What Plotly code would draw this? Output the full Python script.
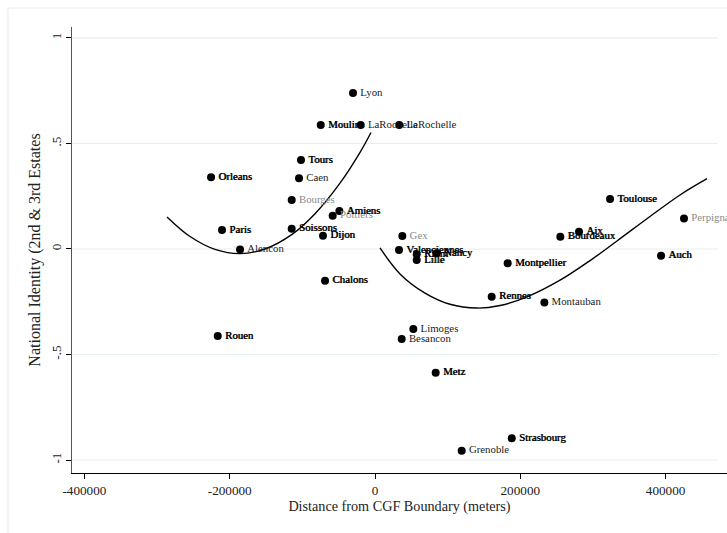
import plotly.graph_objects as go

# ---------------- data ----------------
cities = ["Lyon", "Moulins", "LaRochelle", "LaRochelle", "Tours", "Orleans", "Caen",
          "Bourges", "Amiens", "Poitiers", "Paris", "Soissons", "Dijon", "Alencon",
          "Chalons", "Rouen", "Gex", "Valenciennes", "Riom", "Nancy", "Lille",
          "Montpellier", "Rennes", "Montauban", "Aix", "Bourdeaux", "Toulouse",
          "Perpignan", "Auch", "Limoges", "Besancon", "Metz", "Strasbourg", "Grenoble"]
distance = [-30300, -74700, -19700, 33400, -101900, -225700, -104600,
            -114700, -49100, -58300, -210600, -114700, -71600, -185800,
            -68800, -216500, 37600, 33000, 57400, 84900, 57400,
            182600, 160600, 233100, 280800, 255100, 323500,
            425300, 393700, 52700, 36700, 83500, 188200, 119300]
identity = [0.739, 0.588, 0.588, 0.588, 0.422, 0.340, 0.335,
            0.232, 0.180, 0.158, 0.090, 0.096, 0.063, -0.002,
            -0.150, -0.412, 0.062, -0.005, -0.025, -0.020, -0.052,
            -0.068, -0.226, -0.254, 0.082, 0.058, 0.237,
            0.145, -0.032, -0.379, -0.427, -0.586, -0.897, -0.956]
# label ink: 2 = overprinted (dark), 1 = single black, 0 = grey
label_ink = [1, 2, 1, 1, 2, 2, 1,
             0, 2, 0, 2, 2, 2, 1,
             2, 2, 0, 2, 2, 2, 2,
             2, 2, 1, 2, 2, 2,
             0, 2, 1, 1, 2, 2, 1]

# fitted curves (west and east of the boundary)
fit_west_x = [-286300, -254600, -220200, -185800, -151400, -114200, -82600, -48200, -20600, -5500]
fit_west_y = [0.152, 0.059, -0.002, -0.022, 0.000, 0.069, 0.167, 0.312, 0.458, 0.552]
fit_east_x = [6900, 34400, 68800, 103200, 140400, 172100, 209300, 254700, 296000, 333100, 378500, 419800, 457000]
fit_east_y = [0.005, -0.118, -0.209, -0.262, -0.280, -0.268, -0.227, -0.148, -0.055, 0.038, 0.154, 0.256, 0.333]

x_ticks = [-400000, -200000, 0, 200000, 400000]
x_tick_text = ["-400000", "-200000", "0", "200000", "400000"]
y_ticks = [1, 0.5, 0, -0.5, -1]
y_tick_text = ["1", ".5", "0", "-.5", "-1"]

FONT = "Liberation Serif"
GRID = "#e7eef0"

fig = go.Figure()

# fit lines
for fx, fy in [(fit_west_x, fit_west_y), (fit_east_x, fit_east_y)]:
    fig.add_trace(go.Scatter(x=fx, y=fy, mode="lines",
                             line=dict(color="black", width=1.4, shape="spline", smoothing=1.0),
                             hoverinfo="skip", showlegend=False))

# markers
fig.add_trace(go.Scatter(x=distance, y=identity, mode="markers",
                         marker=dict(color="black", size=8, line=dict(width=0)),
                         showlegend=False, hoverinfo="skip"))

# labels
colors = {0: "#8a8a8a", 1: "#1a1a1a", 2: "#000000"}
shadows = {0: "none", 1: "none", 2: "0.6px 0px 0px #000"}
for ink in [0, 1, 2]:
    xs = [d for d, k in zip(distance, label_ink) if k == ink]
    ys = [v for v, k in zip(identity, label_ink) if k == ink]
    ts = [c for c, k in zip(cities, label_ink) if k == ink]
    fig.add_trace(go.Scatter(x=xs, y=ys, mode="markers+text", text=ts,
                             marker=dict(size=10, opacity=0),
                             textposition="middle right",
                             textfont=dict(family=FONT, size=10.8, color=colors[ink],
                                           shadow=shadows[ink]),
                             showlegend=False, hoverinfo="skip"))

grid_shapes = [dict(type="line", xref="paper", yref="y", x0=0, x1=(718 - 72) / 655,
                    y0=v, y1=v, line=dict(color=GRID, width=1.2), layer="below")
               for v in y_ticks]

fig.update_layout(
    width=727, height=533,
    margin=dict(l=72, r=0, t=27, b=60),
    paper_bgcolor="white", plot_bgcolor="white",
    font=dict(family=FONT, color="black"),
    showlegend=False,
    xaxis=dict(range=[-417100, 484500], showgrid=False, zeroline=False,
               tickvals=x_ticks, ticktext=x_tick_text,
               ticks="outside", ticklen=5, tickcolor="black", tickwidth=1,
               showline=True, linecolor="black", linewidth=1,
               tickfont=dict(family=FONT, size=13.2, color="#222"),
               title=dict(text="Distance from CGF Boundary (meters)",
                          font=dict(family=FONT, size=14.2, color="#222"), standoff=3)),
    yaxis=dict(range=[-1.0616, 1.052], showgrid=False,
               zeroline=False, tickvals=y_ticks, ticktext=y_tick_text, tickangle=-90,
               ticks="outside", ticklen=5, tickcolor="black", tickwidth=1,
               showline=True, linecolor="#555", linewidth=1,
               tickfont=dict(family=FONT, size=13.2, color="#222"),
               title=dict(text="National Identity (2nd & 3rd Estates",
                          font=dict(family=FONT, size=16, color="#222"), standoff=4)),
    shapes=grid_shapes + [dict(type="rect", xref="paper", yref="paper",
                 x0=(8 - 72) / 655, x1=1.3, y0=-0.5, y1=(473 - 8) / 446,
                 line=dict(color=GRID, width=1.2), fillcolor="rgba(0,0,0,0)", layer="below")],
)

fig.write_html("out.html")
